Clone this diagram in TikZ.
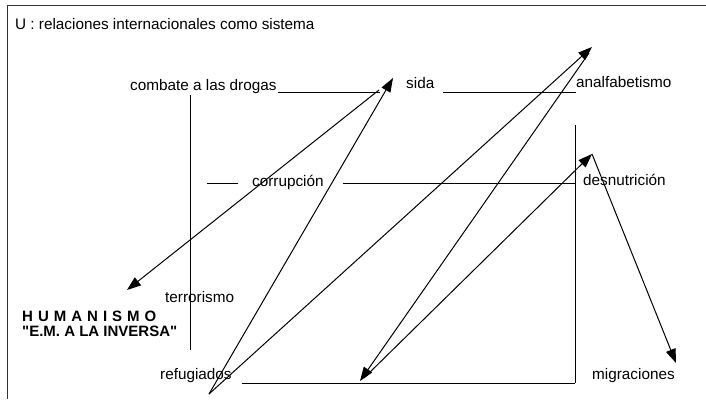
\documentclass[tikz,border=0pt]{standalone}
\usepackage{fontspec}
\setmainfont{Liberation Sans}
\usetikzlibrary{arrows.meta}
\begin{document}
\begin{tikzpicture}[x=1pt,y=-1pt,
  lbl/.style={anchor=base west,inner sep=0pt,font=\fontsize{15.3}{17}\selectfont},
  bl/.style={lbl,font=\fontsize{15}{17}\selectfont\bfseries},
  rule/.style={line width=1pt},
  arr/.style={line width=1pt,-{Triangle[length=14pt,width=10pt]}}]
\useasboundingbox (0,0) rectangle (706,399);
% frame
\draw[rule,black!80] (7,399) -- (7,5) -- (706,5);
% labels
\node[lbl] (title) at (15,29) {U : relaciones internacionales como sistema};
\node[lbl] (combate) at (130,90) {combate a las drogas};
\node[lbl] (sida) at (406,88) {sida};
\node[lbl] (analf) at (576,87) {analfabetismo};
\node[lbl] (corr) at (252,186) {corrupción};
\node[lbl] (desn) at (583,185) {desnutrición};
\node[lbl] (terr) at (165,302) {terrorismo};
\node[bl] (hum) at (22,321) {H\,\,U\,\,M\,\,A\,\,N\,\,I\,\,S\,\,M\,\,O};
\node[bl] (em) at (22,336) {\textquotedbl E.M. A LA INVERSA\textquotedbl};
\node[lbl] (refu) at (160,379) {refugiados};
\node[lbl] (migr) at (592,379) {migraciones};
% structure lines
\coordinate (c1) at (278,92); \coordinate (c2) at (380,92);
\coordinate (s1) at (443,92); \coordinate (s2) at (576,92);
\coordinate (v1) at (190,95); \coordinate (v2) at (190,350);
\coordinate (k1) at (207,183); \coordinate (k2) at (238,183);
\coordinate (k3) at (343,183); \coordinate (k4) at (575,183);
\coordinate (r1) at (575,125); \coordinate (r2) at (575,383);
\coordinate (b1) at (242,383);
\draw[rule] (c1) -- (c2);
\draw[rule] (s1) -- (s2);
\draw[rule] (v1) -- (v2);
\draw[rule] (k1) -- (k2);
\draw[rule] (k3) -- (k4);
\draw[rule] (r1) -- (r2);
\draw[rule] (b1) -- (r2);
% arrow points
\coordinate (pr) at (209,394);
\coordinate (ps) at (393,78);
\coordinate (ps0) at (379,90);
\coordinate (ph) at (127,290);
\coordinate (pa) at (592,47);
\coordinate (pa0) at (589,53);
\coordinate (pb) at (360,381);
\coordinate (pb0) at (364,378);
\coordinate (pd) at (592,154);
\coordinate (pm) at (676,363);
\draw[arr] (pr) -- (ps);
\draw[arr] (ps0) -- (ph);
\draw[arr] (pr) -- (pa);
\draw[arr] (pa0) -- (pb);
\draw[arr] (pb0) -- (pd);
\draw[arr] (pd) -- (pm);
\end{tikzpicture}
\end{document}
